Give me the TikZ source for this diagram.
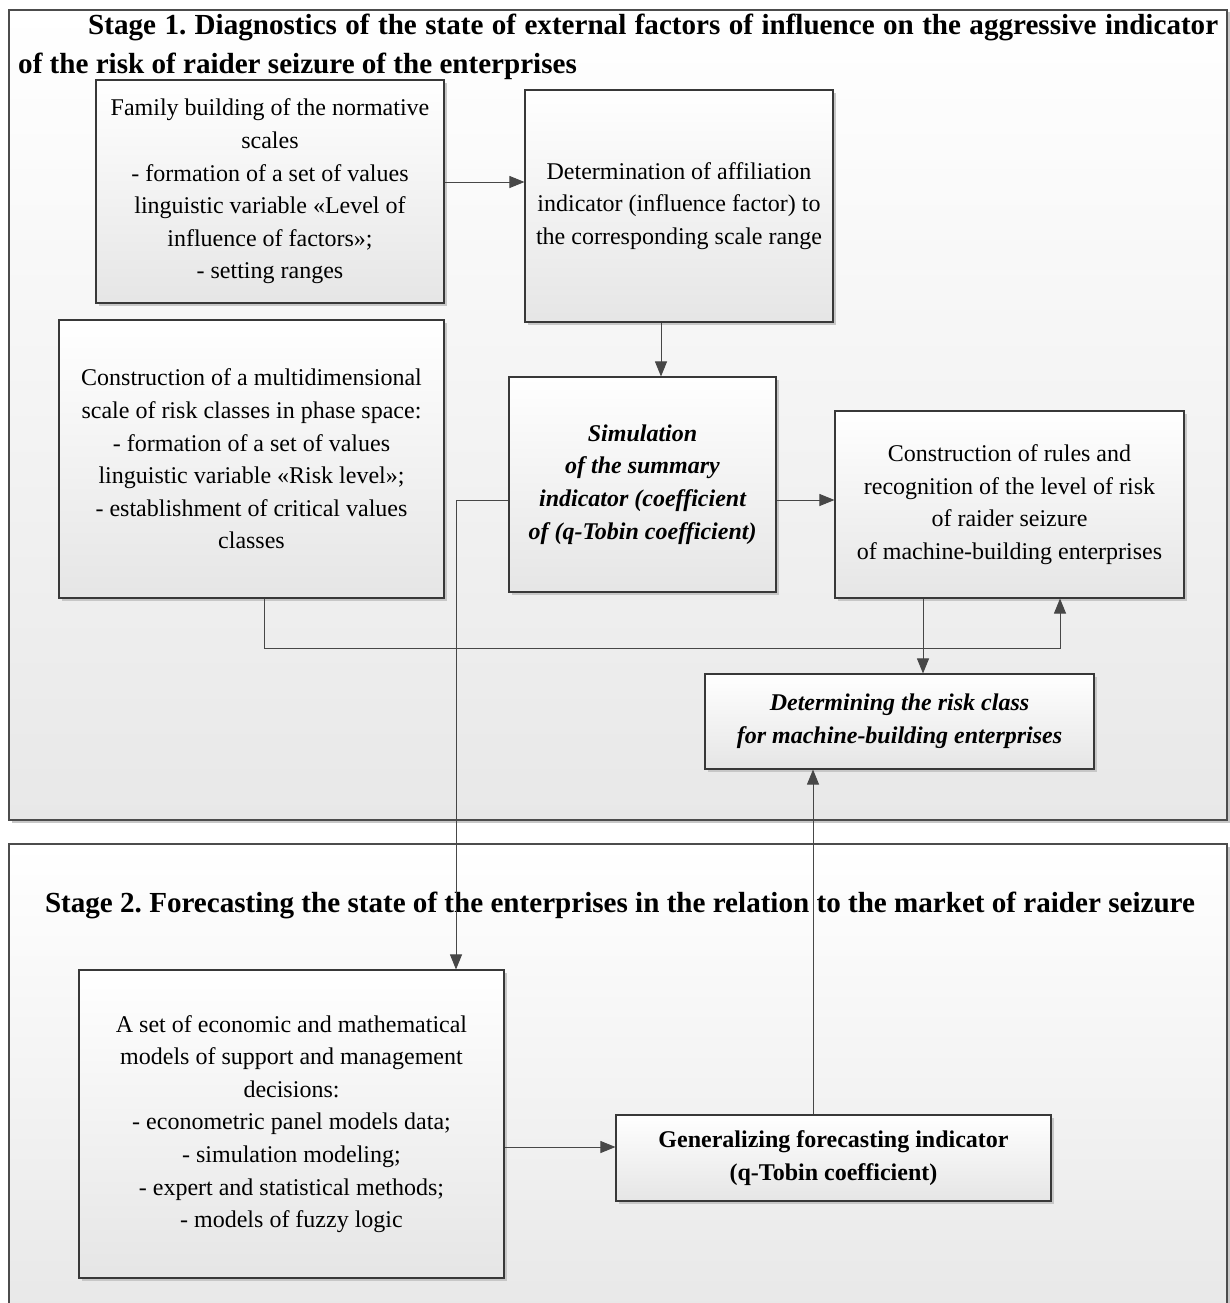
\documentclass[tikz,border=0pt]{standalone}
\usepackage{fontspec}
\setmainfont{Liberation Serif}
\usetikzlibrary{arrows.meta,shadows,calc}
\frenchspacing
\newcommand{\bodyfnt}{\fontsize{24}{32.6}\selectfont}
\newcommand{\titlefnt}{\fontsize{29.1}{39}\selectfont\bfseries}
\begin{document}
\begin{tikzpicture}[x=1pt,y=-1pt,
  stagebox/.style={draw=black!70, line width=1.1pt, top color=white, bottom color=black!9,
     drop shadow={shadow xshift=2.5pt, shadow yshift=-2.5pt, fill=black!22, opacity=1}},
  box/.style={draw=black!78, line width=1.1pt, top color=white, bottom color=black!10,
     drop shadow={shadow xshift=3pt, shadow yshift=-3pt, fill=black!22, opacity=1},
     align=center, inner sep=0pt, font=\bodyfnt},
  arr/.style={draw=black!72, line width=0.9pt, -{Triangle[length=15pt,width=12pt]}},
  ttl/.style={inner sep=0pt, font=\titlefnt}
]
\useasboundingbox (0,0) rectangle (1229,1303);
\fill[white] (0,0) rectangle (1229,1303);
% stage frames
\node[stagebox, minimum width=1218pt, minimum height=810pt, inner sep=0pt] (S1) at (618,415) {};
\node[stagebox, minimum width=1218pt, minimum height=466pt, inner sep=0pt] (S2) at (618,1077) {};
% titles
\node[ttl, anchor=north west, text width=1200pt, align=justify] (T1) at (18,14)
  {\hspace*{70pt}Stage 1. Diagnostics of the state of external factors of influence on the aggressive indicator\linebreak of the risk of raider seizure of the enterprises};
\node[ttl] (T2) at (620,905) {Stage 2. Forecasting the state of the enterprises in the relation to the market of raider seizure};
% boxes
\node[box, minimum width=348pt, minimum height=223pt] (A) at (270,191.5)
  {Family building of the normative\\ scales\\ - formation of a set of values\\ linguistic variable «Level of\\ influence of factors»;\\ - setting ranges};
\node[box, minimum width=308pt, minimum height=232pt] (B) at (679,206)
  {Determination of affiliation\\ indicator (influence factor) to\\ the corresponding scale range};
\node[box, minimum width=385pt, minimum height=278pt] (C) at (251.5,459)
  {Construction of a multidimensional\\ scale of risk classes in phase space:\\ - formation of a set of values\\ linguistic variable «Risk level»;\\ - establishment of critical values\\ classes};
\node[box, minimum width=267pt, minimum height=215pt, font=\bodyfnt\bfseries\itshape] (D) at (642.5,484.5)
  {Simulation\\ of the summary\\ indicator (coefficient\\ of (q-Tobin coefficient)};
\node[box, minimum width=349pt, minimum height=187pt] (E) at (1009.5,504.5)
  {Construction of rules and\\ recognition of the level of risk\\ of raider seizure\\ of machine-building enterprises};
\node[box, minimum width=389pt, minimum height=95pt, font=\bodyfnt\bfseries\itshape] (F) at (899.5,721.5)
  {Determining the risk class\\ for machine-building enterprises};
\node[box, minimum width=425pt, minimum height=308pt] (G) at (291.5,1124)
  {A set of economic and mathematical\\ models of support and management\\ decisions:\\ - econometric panel models data;\\ - simulation modeling;\\ - expert and statistical methods;\\ - models of fuzzy logic};
\node[box, minimum width=435pt, minimum height=86pt, font=\bodyfnt\bfseries] (H) at (833.5,1158)
  {Generalizing forecasting indicator\\ (q-Tobin coefficient)};
% helper coordinates
\coordinate (ab) at (0,182);
\coordinate (bd) at (661,0);
\coordinate (de) at (0,500);
\coordinate (ef) at (923,0);
\coordinate (cl) at (264,648);
\coordinate (ce) at (1060,648);
\coordinate (dg) at (456,500);
\coordinate (gh) at (0,1147);
\coordinate (hf) at (813,0);
% connectors
\draw[arr] (A.east |- ab) -- (B.west |- ab);
\draw[arr] (B.south -| bd) -- (D.north -| bd);
\draw[arr] (D.east |- de) -- (E.west |- de);
\draw[arr] (E.south -| ef) -- (F.north -| ef);
\draw[arr] (C.south -| cl) -- (cl) -- (ce) -- (E.south -| ce);
\draw[arr] (D.west |- dg) -- (dg) -- (G.north -| dg);
\draw[arr] (G.east |- gh) -- (H.west |- gh);
\draw[arr] (H.north -| hf) -- (F.south -| hf);
\end{tikzpicture}
\end{document}
